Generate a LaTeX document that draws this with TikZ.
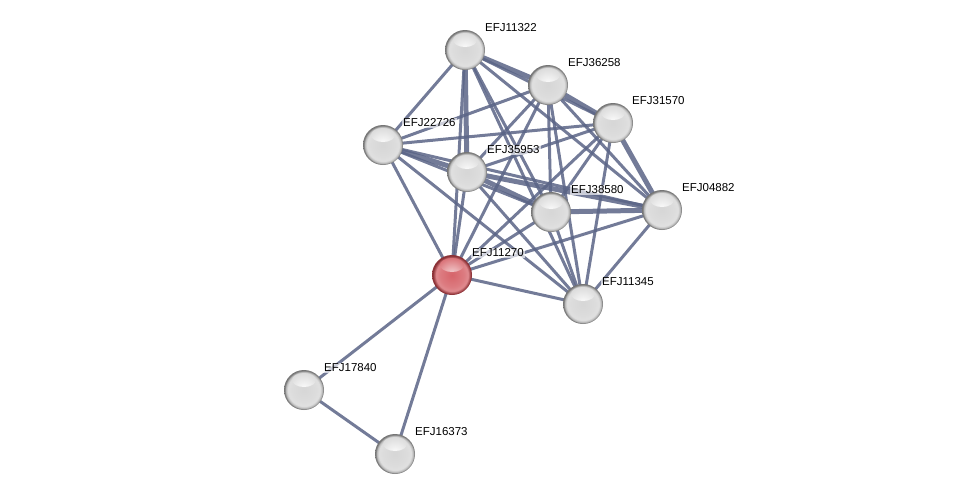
\documentclass[tikz,border=0pt]{standalone}
\usepackage{fontspec}
\setmainfont{Liberation Sans}
\usetikzlibrary{calc,backgrounds}
\definecolor{edgecol}{RGB}{90,100,134}
\definecolor{greybody}{RGB}{214,214,214}
\definecolor{redbody}{RGB}{214,100,106}
\definecolor{redrim}{RGB}{140,50,55}
\pgfdeclareradialshading{greyball}{\pgfqpoint{0bp}{0bp}}{%
  color(0bp)=(greybody); color(15bp)=(greybody!85!white); color(20bp)=(greybody!75!white);
  color(22.5bp)=(black!25); color(24bp)=(black!48); color(25bp)=(black!55); color(50bp)=(black!55)}
\pgfdeclareradialshading{redball}{\pgfqpoint{0bp}{0bp}}{%
  color(0bp)=(redbody); color(15bp)=(redbody!85!white); color(20bp)=(redbody!75!white);
  color(22.5bp)=(redbody!80!black); color(24bp)=(redrim); color(25bp)=(redrim); color(50bp)=(redrim)}
\tikzset{
  ball/.style={circle, minimum size=40pt, inner sep=0pt, shading=greyball,
    path picture={\shade[inner color=white, outer color=greybody]
      ($(path picture bounding box.center)+(0,-10)$) ellipse [x radius=12, y radius=7];}},
  redball/.style={circle, minimum size=40pt, inner sep=0pt, shading=redball,
    path picture={\shade[inner color=white!75!redbody, outer color=redbody]
      ($(path picture bounding box.center)+(0,-10)$) ellipse [x radius=12, y radius=7];}},
  lbl/.style={anchor=west, fill=white, fill opacity=0.65, text opacity=1, inner sep=1pt, font=\fontsize{11.5}{13}\selectfont},
  ed/.style={draw=edgecol, line width=3pt, opacity=0.85},
  edt/.style={draw=edgecol, line width=5pt, opacity=0.85}
}
\begin{document}
\begin{tikzpicture}[x=1pt,y=-1pt]
\useasboundingbox (0,0) rectangle (975,499);
\node[ball] (A) at (465,50) {};
\node[ball] (B) at (548,85) {};
\node[ball] (C) at (613,123) {};
\node[ball] (D) at (383,145) {};
\node[ball] (E) at (467,172) {};
\node[ball] (F) at (551,212) {};
\node[ball] (G) at (662,210) {};
\node[redball] (H) at (452,275) {};
\node[ball] (I) at (583,304) {};
\node[ball] (J) at (304,390) {};
\node[ball] (K) at (395,454) {};
\begin{pgfonlayer}{background}
\foreach \a/\b in {A/C,A/D,A/F,A/G,A/H,A/I,
  B/D,B/E,B/F,B/G,B/H,B/I,
  C/D,C/E,C/F,C/H,C/I,
  D/F,D/G,D/H,D/I,
  E/H,E/I,
  F/H,F/I,
  G/H,G/I,
  H/I,H/J,H/K,J/K}
  \draw[ed] (\a.center) -- (\b.center);
\foreach \a/\b in {A/B,A/E,B/C,C/G,D/E,E/F,E/G,F/G}
  \draw[edt] (\a.center) -- (\b.center);
\end{pgfonlayer}
\node[lbl] (lA) at ($(A)+(19,-22)$) {EFJ11322};
\node[lbl] (lB) at ($(B)+(19,-22)$) {EFJ36258};
\node[lbl] (lC) at ($(C)+(18,-22)$) {EFJ31570};
\node[lbl] (lD) at ($(D)+(19,-22)$) {EFJ22726};
\node[lbl] (lE) at ($(E)+(19,-22)$) {EFJ35953};
\node[lbl] (lF) at ($(F)+(19,-22)$) {EFJ38580};
\node[lbl] (lG) at ($(G)+(19,-22)$) {EFJ04882};
\node[lbl] (lH) at ($(H)+(19,-22)$) {EFJ11270};
\node[lbl] (lI) at ($(I)+(18,-22)$) {EFJ11345};
\node[lbl] (lJ) at ($(J)+(19,-22)$) {EFJ17840};
\node[lbl] (lK) at ($(K)+(19,-22)$) {EFJ16373};
\end{tikzpicture}
\end{document}
